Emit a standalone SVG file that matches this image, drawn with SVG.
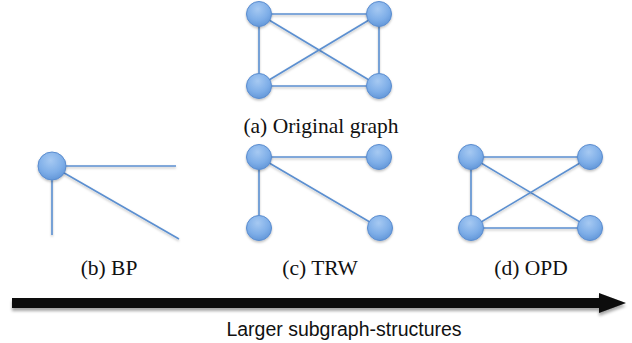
<svg xmlns="http://www.w3.org/2000/svg" width="632" height="343" viewBox="0 0 632 343">
<defs>
<radialGradient id="ng" cx="0.45" cy="0.3" r="0.75">
<stop offset="0" stop-color="#a6c9f2"/>
<stop offset="0.6" stop-color="#7eaee8"/>
<stop offset="1" stop-color="#5e93d6"/>
</radialGradient>
<filter id="sh" filterUnits="userSpaceOnUse" x="0" y="0" width="632" height="343">
<feDropShadow dx="0" dy="1.5" stdDeviation="1" flood-color="#000" flood-opacity="0.25"/>
</filter>
<filter id="ash" filterUnits="userSpaceOnUse" x="0" y="280" width="632" height="45">
<feDropShadow dx="0" dy="3" stdDeviation="1.5" flood-color="#000" flood-opacity="0.35"/>
</filter>
</defs>
<style>
.node{fill:url(#ng);stroke:#5a8ccf;stroke-width:1;filter:url(#sh)}
.e{stroke:#5b8fd0;stroke-width:1.6;fill:none;filter:url(#sh)}
.lbl{font-family:"Liberation Serif","Times New Roman",serif;font-size:21.5px;fill:#111;text-anchor:middle}
.cap{font-family:"Liberation Sans",Arial,sans-serif;font-size:19.5px;fill:#111;text-anchor:middle}
</style>
<g id="connectors">
<line class="e" x1="259" y1="14" x2="379" y2="14"/>
<line class="e" x1="259" y1="86" x2="379" y2="86"/>
<line class="e" x1="259" y1="14" x2="259" y2="86"/>
<line class="e" x1="379" y1="14" x2="379" y2="86"/>
<line class="e" x1="259" y1="14" x2="379" y2="86"/>
<line class="e" x1="379" y1="14" x2="259" y2="86"/>
<line class="e" x1="52" y1="166" x2="176" y2="166"/>
<line class="e" x1="52" y1="166" x2="52" y2="235"/>
<line class="e" x1="52" y1="166" x2="179" y2="239"/>
<line class="e" x1="259" y1="157" x2="379" y2="157"/>
<line class="e" x1="259" y1="157" x2="259" y2="228"/>
<line class="e" x1="259" y1="157" x2="380" y2="228"/>
<line class="e" x1="471" y1="157" x2="590" y2="157"/>
<line class="e" x1="471" y1="228" x2="590" y2="228"/>
<line class="e" x1="471" y1="157" x2="471" y2="228"/>
<line class="e" x1="471" y1="157" x2="590" y2="228"/>
<line class="e" x1="590" y1="157" x2="471" y2="228"/>
<path id="arrow" d="M12 298 H599 V293 L626 303 L599 313 V308 H12 Z" fill="#0a0a0a" filter="url(#ash)"/>
</g>
<g id="graph-a">
<circle class="node" cx="259" cy="14" r="12.5"/>
<circle class="node" cx="379" cy="14" r="12.5"/>
<circle class="node" cx="259" cy="86" r="12.5"/>
<circle class="node" cx="379" cy="86" r="12.5"/>
<text class="lbl" x="321" y="133">(a) Original graph</text>
</g>
<g id="graph-b">
<circle class="node" cx="52" cy="166" r="14"/>
<text class="lbl" x="109" y="275">(b) BP</text>
</g>
<g id="graph-c">
<circle class="node" cx="259" cy="157" r="12.5"/>
<circle class="node" cx="379" cy="157" r="12.5"/>
<circle class="node" cx="259" cy="228" r="12.5"/>
<circle class="node" cx="380" cy="228" r="12.5"/>
<text class="lbl" x="320" y="275">(c) TRW</text>
</g>
<g id="graph-d">
<circle class="node" cx="471" cy="157" r="12.5"/>
<circle class="node" cx="590" cy="157" r="12.5"/>
<circle class="node" cx="471" cy="228" r="12.5"/>
<circle class="node" cx="590" cy="228" r="12.5"/>
<text class="lbl" x="531" y="275">(d) OPD</text>
</g>
<g id="caption">
<text class="cap" x="344" y="336">Larger subgraph-structures</text>
</g>
</svg>
